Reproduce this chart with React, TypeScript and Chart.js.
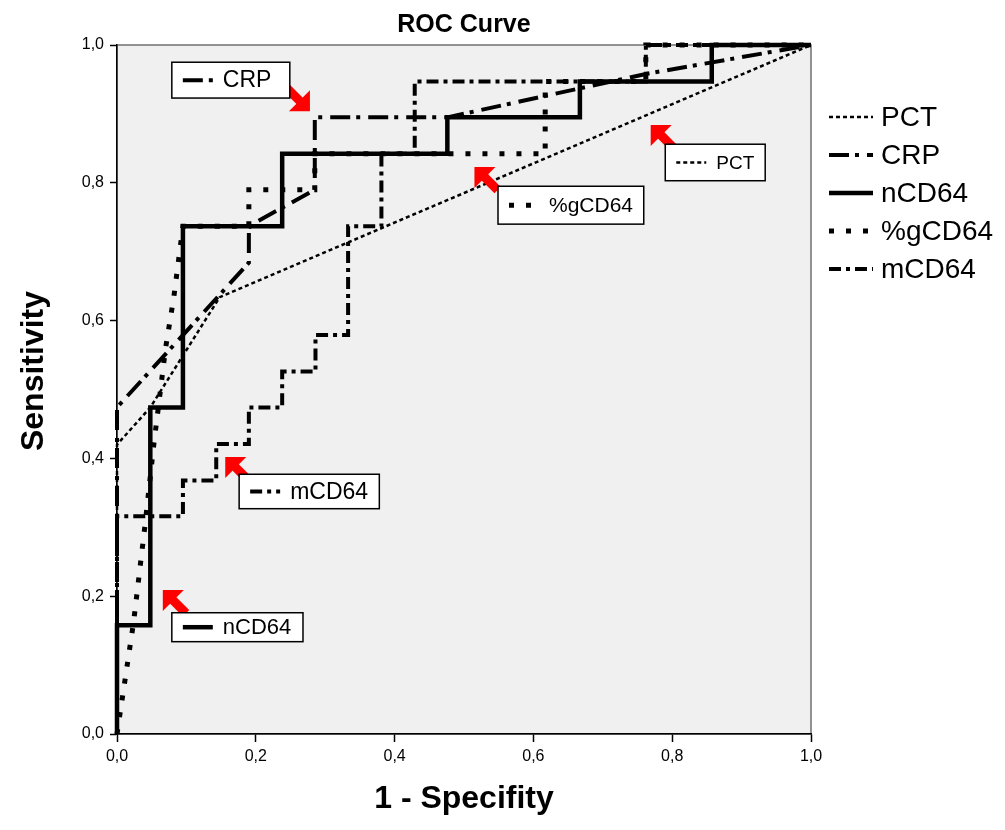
import React, { useEffect, useRef } from 'react';
import { Chart, registerables } from 'chart.js';

Chart.register(...registerables);

// ---- data ----
const seriesNames = ['PCT', 'CRP', 'nCD64', '%gCD64', 'mCD64'];
const axisTicks = [0, 0.2, 0.4, 0.6, 0.8, 1.0];
const tickLabels = ['0,0', '0,2', '0,4', '0,6', '0,8', '1,0'];

const pctFpr = [0, 0, 0.048, 0.148, 1];
const pctTpr = [0, 0.42, 0.474, 0.634, 1];

const crpFpr = [0, 0, 0.19, 0.19, 0.285, 0.285, 0.476, 0.762, 1];
const crpTpr = [0, 0.474, 0.684, 0.737, 0.79, 0.895, 0.895, 0.958, 1];

const nFpr = [0, 0, 0.048, 0.048, 0.095, 0.095, 0.238, 0.238, 0.476, 0.476, 0.667, 0.667, 0.857, 0.857, 1];
const nTpr = [0, 0.158, 0.158, 0.474, 0.474, 0.737, 0.737, 0.842, 0.842, 0.895, 0.895, 0.947, 0.947, 1, 1];

const gFpr = [0, 0.024, 0.04, 0.053, 0.07, 0.082, 0.095, 0.19, 0.19, 0.285, 0.285, 0.617, 0.617, 0.762, 0.762, 1];
const gTpr = [0, 0.163, 0.3, 0.42, 0.56, 0.635, 0.737, 0.737, 0.79, 0.79, 0.842, 0.842, 0.947, 0.947, 1, 1];

const mFpr = [0, 0, 0.095, 0.095, 0.143, 0.143, 0.19, 0.19, 0.238, 0.238, 0.286, 0.286, 0.333, 0.333, 0.381, 0.381, 0.429, 0.429, 0.762, 0.762, 1];
const mTpr = [0, 0.316, 0.316, 0.368, 0.368, 0.421, 0.421, 0.474, 0.474, 0.526, 0.526, 0.579, 0.579, 0.737, 0.737, 0.842, 0.842, 0.947, 0.947, 1, 1];

// callout labels (in data units of the axes)
const noteLabels = ['CRP', 'PCT', '%gCD64', 'mCD64', 'nCD64'];
const noteSeries = [1, 0, 3, 4, 2];
const noteLeft = [0.079, 0.79, 0.549, 0.176, 0.079];
const noteTop = [0.975, 0.856, 0.795, 0.377, 0.176];
const noteRight = [0.249, 0.934, 0.759, 0.378, 0.268];
const noteBottom = [0.923, 0.803, 0.74, 0.327, 0.134];
const tipX = [0.278, 0.769, 0.515, 0.156, 0.066];
const tipY = [0.904, 0.884, 0.823, 0.402, 0.209];
const tipDir = ['se', 'nw', 'nw', 'nw', 'nw'];
const noteFontSize = [23, 19, 21, 23, 22];

// ---- styles ----
const widths = [2.5, 4, 4.5, 5, 4];
const dashes: number[][] = [[4, 3], [20, 6, 4, 8], [], [5, 12], [12, 5, 4, 5]];
const FONT = "'Liberation Sans', Arial, sans-serif";

const toPts = (xs: number[], ys: number[]) => xs.map((x, i) => ({ x, y: ys[i] }));
const allX = [pctFpr, crpFpr, nFpr, gFpr, mFpr];
const allY = [pctTpr, crpTpr, nTpr, gTpr, mTpr];

function drawSample(ctx: CanvasRenderingContext2D, i: number, x0: number, x1: number, y: number) {
  ctx.save();
  ctx.strokeStyle = '#000';
  ctx.lineWidth = widths[i];
  ctx.setLineDash(dashes[i]);
  ctx.lineCap = 'butt';
  ctx.beginPath();
  ctx.moveTo(x0, y);
  ctx.lineTo(x1, y);
  ctx.stroke();
  ctx.restore();
}

function drawArrow(ctx: CanvasRenderingContext2D, tx: number, ty: number, dir: string) {
  const s = dir === 'se' ? 1 : -1; // pointing direction sign
  const L = 21;
  const ux = s / Math.SQRT2, uy = s / Math.SQRT2;
  ctx.save();
  ctx.fillStyle = '#ff0000';
  ctx.beginPath();
  ctx.moveTo(tx, ty);
  ctx.lineTo(tx - s * L, ty);
  ctx.lineTo(tx, ty - s * L);
  ctx.closePath();
  ctx.fill();
  const mx = tx - s * L / 2, my = ty - s * L / 2;
  const ex = mx - ux * 18, ey = my - uy * 18;
  ctx.strokeStyle = '#ff0000';
  ctx.lineWidth = 9;
  ctx.beginPath();
  ctx.moveTo(mx + ux * 2, my + uy * 2);
  ctx.lineTo(ex, ey);
  ctx.stroke();
  ctx.restore();
}

const decoPlugin = {
  id: 'deco',
  beforeDraw(chart: any) {
    const { ctx, chartArea: a } = chart;
    ctx.save();
    ctx.fillStyle = '#ffffff';
    ctx.fillRect(0, 0, chart.width, chart.height);
    ctx.fillStyle = '#f0f0f0';
    ctx.fillRect(a.left, a.top, a.right - a.left, a.bottom - a.top);
    ctx.strokeStyle = '#707070';
    ctx.lineWidth = 1.5;
    ctx.strokeRect(a.left, a.top, a.right - a.left, a.bottom - a.top);
    ctx.restore();
  },
  afterDatasetsDraw(chart: any) {
    const { ctx, scales } = chart;
    const xs = scales.x, ys = scales.y;
    noteLabels.forEach((lab, k) => {
      const tx = xs.getPixelForValue(tipX[k]);
      const ty = ys.getPixelForValue(tipY[k]);
      drawArrow(ctx, tx, ty, tipDir[k]);
    });
    noteLabels.forEach((lab, k) => {
      const l = xs.getPixelForValue(noteLeft[k]);
      const r = xs.getPixelForValue(noteRight[k]);
      const t = ys.getPixelForValue(noteTop[k]);
      const b = ys.getPixelForValue(noteBottom[k]);
      ctx.save();
      ctx.fillStyle = '#ffffff';
      ctx.fillRect(l, t, r - l, b - t);
      ctx.strokeStyle = '#000';
      ctx.lineWidth = 1.5;
      ctx.strokeRect(l, t, r - l, b - t);
      const cy = (t + b) / 2;
      drawSample(ctx, noteSeries[k], l + 11, l + 41, cy);
      ctx.fillStyle = '#000';
      ctx.font = `${noteFontSize[k]}px ${FONT}`;
      ctx.textAlign = 'left';
      ctx.textBaseline = 'middle';
      ctx.fillText(lab, l + 51, cy + 1);
      ctx.restore();
    });
  },
  afterDraw(chart: any) {
    const { ctx, chartArea: a } = chart;
    ctx.save();
    ctx.fillStyle = '#000';
    ctx.font = `bold 25px ${FONT}`;
    ctx.textAlign = 'center';
    ctx.textBaseline = 'middle';
    ctx.fillText('ROC Curve', (a.left + a.right) / 2, 25);
    // y axis title
    ctx.save();
    ctx.translate(34, 371);
    ctx.rotate(-Math.PI / 2);
    ctx.font = `bold 32px ${FONT}`;
    ctx.fillText('Sensitivity', 0, 0);
    ctx.restore();
    // legend
    seriesNames.forEach((name, i) => {
      const y = 117 + 38 * i;
      drawSample(ctx, i, a.right + 18, a.right + 62, y);
      ctx.fillStyle = '#000';
      ctx.font = `28px ${FONT}`;
      ctx.textAlign = 'left';
      ctx.textBaseline = 'middle';
      ctx.fillText(name, a.right + 70, y + 1);
    });
    ctx.restore();
  },
};

export default function App() {
  const ref = useRef<HTMLCanvasElement | null>(null);
  useEffect(() => {
    if (!ref.current) return;
    const datasets = seriesNames.map((name, i) => ({
      label: name,
      data: toPts(allX[i], allY[i]),
      showLine: true,
      borderColor: '#000',
      backgroundColor: '#000',
      borderWidth: widths[i],
      borderDash: dashes[i],
      borderCapStyle: 'butt' as const,
      borderJoinStyle: 'miter' as const,
      pointRadius: 0,
      pointHoverRadius: 0,
      tension: 0,
      fill: false,
      clip: false as const,
    }));
    const tickCfg = {
      color: '#000',
      font: { family: FONT, size: 16 },
    };
    const fmt = (v: any) => tickLabels[axisTicks.indexOf(Math.round(Number(v) * 10) / 10)];
    const chart = new Chart(ref.current, {
      type: 'scatter',
      data: { datasets },
      options: {
        animation: false,
        responsive: false,
        devicePixelRatio: 1,
        layout: { padding: { top: 45, right: 194, bottom: 0, left: 0 } },
        plugins: { legend: { display: false }, tooltip: { enabled: false }, title: { display: false } },
        scales: {
          x: {
            type: 'linear',
            min: 0,
            max: 1,
            afterBuildTicks: (s: any) => { s.ticks = axisTicks.map((v) => ({ value: v })); },
            afterFit: (s: any) => { s.height = 96; },
            ticks: { ...tickCfg, padding: 5, maxRotation: 0, callback: fmt },
            grid: { drawOnChartArea: false, drawTicks: true, tickLength: 8, tickColor: '#000', tickWidth: 1.5 },
            border: { display: true, color: '#000', width: 1.5 },
            title: { display: true, text: '1 - Specifity', color: '#000', font: { family: FONT, size: 32, weight: 'bold' }, padding: { top: 0, bottom: 12 } },
          },
          y: {
            type: 'linear',
            min: 0,
            max: 1,
            afterBuildTicks: (s: any) => { s.ticks = axisTicks.map((v) => ({ value: v })); },
            afterFit: (s: any) => { s.width = 117; },
            ticks: { ...tickCfg, padding: 6, callback: fmt },
            grid: { drawOnChartArea: false, drawTicks: true, tickLength: 7, tickColor: '#000', tickWidth: 1.5 },
            border: { display: true, color: '#000', width: 1.5 },
            title: { display: false },
          },
        },
      },
      plugins: [decoPlugin],
    } as any);
    return () => chart.destroy();
  }, []);
  return (
    <div style={{ position: 'absolute', left: 0, top: 0, width: 1005, height: 830 }}>
      <canvas ref={ref} width={1005} height={830} style={{ width: 1005, height: 830, display: 'block' }} />
    </div>
  );
}
